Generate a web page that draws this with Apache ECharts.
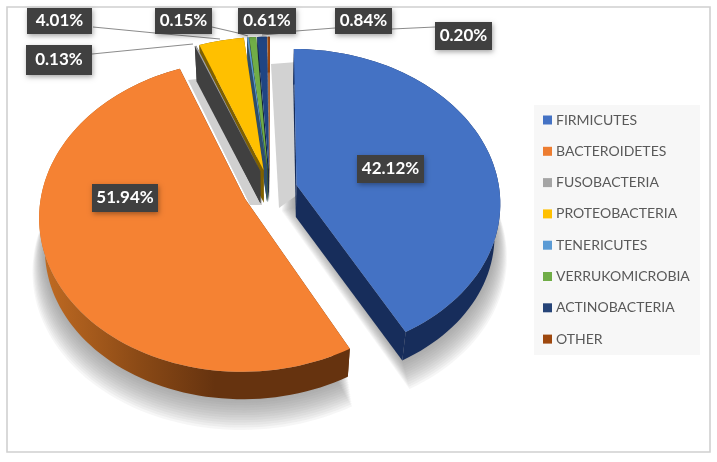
<!DOCTYPE html>
<html><head><meta charset="utf-8">
<style>html,body{margin:0;padding:0;background:#fff}#c{width:717px;height:462px}</style>
<script src="https://cdn.jsdelivr.net/npm/echarts@6/dist/echarts.min.js"></script></head>
<body><div id="c"></div>
<script>
const categories=['FIRMICUTES','BACTEROIDETES','FUSOBACTERIA','PROTEOBACTERIA','TENERICUTES','VERRUKOMICROBIA','ACTINOBACTERIA','OTHER'];
const values=[42.12,51.94,0.13,4.01,0.15,0.61,0.84,0.20];
const topColors=['#4472c4','#f58233','#a5a5a5','#ffc000','#5b9bd5','#70ad47','#1f4583','#9e480e'];
const legendColors=['#4472c4','#ed7d31','#a5a5a5','#ffc000','#5b9bd5','#70ad47','#264478','#9e480e'];
const wallColors=['#172d5b','#6a350f','#404040','#7f6000','#2e4e6b','#38562a','#132240','#4f2407'];
const drawOrder=[18,15,17,13,12,11,10,9]; // series z per category
const labelBoxes=[[357,155,67,28],[92,184,66,28],[26,45,66,30],[27,8,65,26],[155,8,57,26],[238,8,58,26],[335,8,57,26],[435,22,57,28]];
const leaderLines=[[[92,54],[193,44]],[[93,27],[155,33],[220,39]],[[212,27],[238,33],[248,36]],[[296,31],[335,28]],[[392,29],[435,27]],[[262,35],[296,32]]];

const CX=270,CY=190,R=203,RS=152,K=0.11,E=0.135,DEPTH=32;
const total=values.reduce((a,b)=>a+b,0);
const rad=d=>d*Math.PI/180;
function proj(U,V,base,extra,scale){
  const den=1+K*V,s=(base?0.975:1)*(scale||1);
  return [CX+R*U*s/den, CY-RS*V*s/den+(base?DEPTH:0)+(extra||0)];
}
function sliceGeom(i){
  let a0=0;for(let j=0;j<i;j++)a0+=values[j]/total*360;
  const a1=a0+values[i]/total*360,b=rad((a0+a1)/2);
  const ox=E*Math.sin(b),oy=E*Math.cos(b);
  const arc=[];const n=Math.max(2,Math.ceil((a1-a0)/2));
  for(let t=0;t<=n;t++){const th=rad(a0+(a1-a0)*t/n);arc.push([ox+Math.sin(th),oy+Math.cos(th)]);}
  return {ox,oy,arc};
}
function renderSlice(i){
  const g=sliceGeom(i);
  const top=g.arc.map(p=>proj(p[0],p[1],false));
  const bot=g.arc.map(p=>proj(p[0],p[1],true));
  const at=proj(g.ox,g.oy,false),ab=proj(g.ox,g.oy,true);
  const last=top.length-1;
  const arcFill=i===1?new echarts.graphic.LinearGradient(45,0,215,0,[{offset:0,color:'#bf6a22'},{offset:0.55,color:'#8b4a16'},{offset:1,color:'#66330f'}],true):wallColors[i];
  const children=[
    {type:'polygon',shape:{points:[at,top[0],bot[0],ab]},style:{fill:wallColors[i]}},
    {type:'polygon',shape:{points:[at,top[last],bot[last],ab]},style:{fill:wallColors[i]}},
    {type:'polygon',shape:{points:top.concat(bot.slice().reverse())},style:{fill:arcFill}},
    {type:'polygon',shape:{points:[at].concat(top)},style:{fill:topColors[i]}}
  ];
  return {type:'group',children};
}
function renderShadow(){
  const kids=[];
  const LAYERS=14;
  [0,1].forEach(i=>{
    const g=sliceGeom(i);
    for(let j=LAYERS;j>=0;j--){
      const f=j/LAYERS;
      const apex=proj(g.ox,g.oy,true,-10);
      if(i===0){apex[0]-=14*f;apex[1]+=4*f;}
      const pts=[apex].concat(g.arc.map(p=>proj(p[0],p[1],true,24*f-3,0.995+0.06*f)));
      kids.push({type:'polygon',shape:{points:pts},style:{fill:'rgba(120,120,120,0.065)'}});
    }
  });
  // soft backdrop behind the back of the pie
  kids.push({type:'polygon',shape:{points:[[271,64],[297,62],[297,195],[279,208]]},style:{fill:'#d2d2d2'}});
  kids.push({type:'polygon',shape:{points:[[188,80],[262,72],[262,205],[250,205]]},style:{fill:'#d0d0d0'}});
  return {type:'group',children:kids};
}
function renderLabels(){
  const kids=[];
  leaderLines.forEach(pts=>kids.push({type:'polyline',shape:{points:pts},style:{stroke:'#8c8c8c',lineWidth:1.2,fill:null}}));
  labelBoxes.forEach((b,i)=>{
    kids.push({type:'rect',shape:{x:b[0],y:b[1],width:b[2],height:b[3]},style:{fill:'#404040',shadowBlur:5,shadowOffsetX:1,shadowOffsetY:2,shadowColor:'rgba(0,0,0,0.35)'}});
    kids.push({type:'text',style:{x:b[0]+b[2]/2,y:b[1]+b[3]/2,text:values[i].toFixed(2)+'%',fill:'#fff',font:'700 17px Lato',align:'center',verticalAlign:'middle'}});
  });
  return {type:'group',children:kids};
}
const series=categories.map((name,i)=>({
  type:'custom',name,coordinateSystem:'none',z:drawOrder[i],silent:true,
  itemStyle:{color:legendColors[i]},data:[values[i]],
  renderItem:()=>renderSlice(i)
}));
series.push({type:'custom',name:'shadow',coordinateSystem:'none',z:1,silent:true,data:[0],renderItem:renderShadow});
series.push({type:'custom',name:'labels',coordinateSystem:'none',z:30,silent:true,data:[0],renderItem:renderLabels});
const chart=echarts.init(document.getElementById('c'),null,{renderer:'canvas'});
chart.setOption({
  animation:false,backgroundColor:'#fff',
  graphic:[
    {type:'rect',z:0,silent:true,shape:{x:7,y:7,width:703,height:445},style:{fill:'#fff',stroke:'#d0d0d0',lineWidth:1.6}},
    {type:'rect',z:0,silent:true,shape:{x:534,y:105,width:166,height:250},style:{fill:'#f7f7f7'}}
  ],
  legend:{data:categories,orient:'vertical',left:543,top:113,padding:0,itemWidth:9,itemHeight:9,itemGap:17.3,icon:'rect',
    textStyle:{fontFamily:'Lato',fontSize:14,color:'#595959',padding:[0,0,0,-1]},selectedMode:false},
  series
});
</script></body></html>
